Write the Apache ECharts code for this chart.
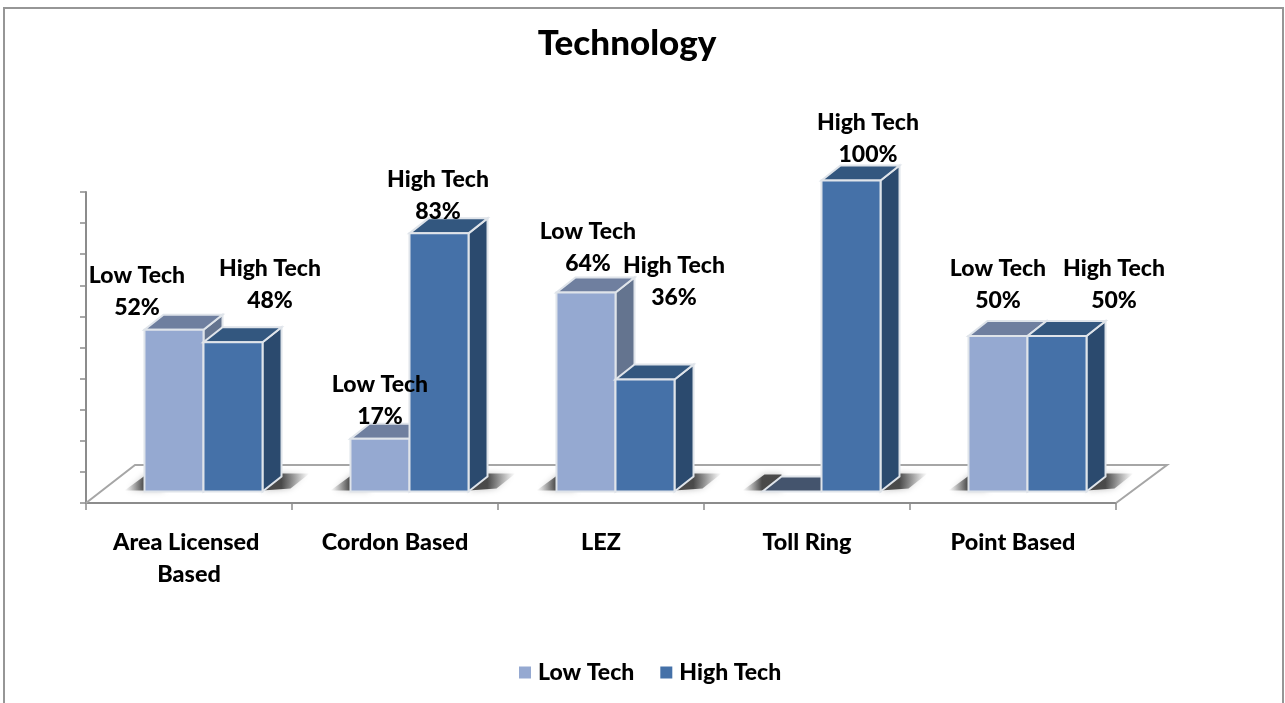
<!DOCTYPE html>
<html>
<head>
<meta charset="utf-8">
<title>Technology</title>
<style>
html,body{margin:0;padding:0;background:#fff;}
#chart{width:1285px;height:703px;}
</style>
<script src="https://cdn.jsdelivr.net/npm/echarts@6/dist/echarts.min.js"></script>
</head>
<body>
<div id="chart"></div>
<script>
var categories = ['Area Licensed Based', 'Cordon Based', 'LEZ', 'Toll Ring', 'Point Based'];
var lowTech = [52, 17, 64, 0, 50];
var highTech = [48, 83, 36, 100, 50];

// labels were placed by hand in the original, offset from the top middle of each bar
var lowNudge = [[-37, -38], [0, -38], [2, -45], null, [0, -51]];
var highNudge = [[37, -58], [-1, -38], [29, -98], [17, -42], [57, -51]];

var font = 'Lato, "Open Sans", sans-serif';
var depthX = 19, depthY = 15;
var shiftX = 14.5, shiftY = 11.5;   // bars stand back from the front edge of the floor

function poly(points, fill, stroke, z2) {
	return {
		type: 'polygon',
		z2: z2,
		shape: {points: points},
		style: {fill: fill, stroke: stroke, lineWidth: stroke ? 2 : 0}
	};
}

function makeBar(side, nudges, colors) {
	return function(params, api) {
		var i = api.value(0);
		var v = api.value(1);
		var base = api.coord([i, 0]);
		var top = api.coord([i, v]);
		var band = api.size([1, 0])[0];
		var w = band * 0.2865;
		var x0 = base[0] + shiftX + (side < 0 ? -w : 0);
		var x1 = x0 + w;
		var y0 = base[1] - shiftY;
		var y1 = top[1] - shiftY;
		var edge = '#dfe4ea';
		var kids = [];

		// soft shadow on the floor
		if (side < 0) {
			kids.push({
				type: 'polygon', z2: 1,
				shape: {points: [[x0 - 20, y0 - 1], [x0 + 2, y0 - 17], [x0 + depthX, y0 - 17], [x0 + depthX, y0 - 1]]},
				style: {
					fill: new echarts.graphic.LinearGradient(0, 0, 1, 0, [
						{offset: 0, color: 'rgba(120,120,120,0)'},
						{offset: 0.5, color: 'rgba(60,60,60,0.9)'}
					]),
					shadowBlur: 6,
					shadowColor: 'rgba(110,110,110,0.5)'
				}
			});
		} else {
			kids.push({
				type: 'polygon', z2: 1,
				shape: {points: [[x1, y0 - 1], [x1 + depthX, y0 - 18], [x1 + depthX + 28, y0 - 18], [x1 + 28, y0 - 3]]},
				style: {
					fill: new echarts.graphic.LinearGradient(0, 0, 1, 0, [
						{offset: 0.4, color: 'rgba(60,60,60,0.9)'},
						{offset: 1, color: 'rgba(120,120,120,0)'}
					]),
					shadowBlur: 6,
					shadowColor: 'rgba(110,110,110,0.5)'
				}
			});
		}

		if (v === 0) {
			kids.push(poly([[x0, y0], [x1, y0], [x1 + depthX, y0 - depthY], [x0 + depthX, y0 - depthY]], '#44546d', edge, 3));
		} else {
			kids.push(poly([[x1, y0], [x1 + depthX, y0 - depthY], [x1 + depthX, y1 - depthY], [x1, y1]], colors.side, edge, 3));
			kids.push(poly([[x0, y1], [x1, y1], [x1 + depthX, y1 - depthY], [x0 + depthX, y1 - depthY]], colors.top, edge, 3));
			kids.push(poly([[x0, y0], [x1, y0], [x1, y1], [x0, y1]], colors.front, edge, 3));
		}

		var n = nudges[i];
		if (n) {
			kids.push({
				type: 'text',
				z2: 100,
				silent: true,
				style: {
					x: (x0 + x1) / 2 + n[0],
					y: y1 + n[1],
					text: params.seriesName + '\n' + v + '%',
					fill: '#000',
					font: '900 23px ' + font,
					lineHeight: 32,
					align: 'center',
					verticalAlign: 'middle'
				}
			});
		}
		return {type: 'group', children: kids};
	};
}

function pairs(values) {
	return values.map(function(v, i) { return [i, v]; });
}

// floor of the 3d box, follows the grid
function renderFloor(params, api) {
	var c = params.coordSys;
	var l = c.x, r = c.x + c.width, b = c.y + c.height;
	return {
		type: 'polyline',
		z2: 0,
		shape: {points: [[l, b], [l + 49, b - 38], [r + 51, b - 38], [r, b]]},
		style: {stroke: '#a6a6a6', lineWidth: 2, fill: null}
	};
}

var chart = echarts.init(document.getElementById('chart'));
chart.setOption({
	backgroundColor: '#fff',
	animation: false,
	title: {
		text: 'Technology',
		left: 622,
		top: 21,
		textAlign: 'center',
		textStyle: {fontFamily: font, fontSize: 35, fontWeight: 900, color: '#000'}
	},
	legend: {
		bottom: 14,
		left: 514,
		icon: 'rect',
		itemWidth: 12,
		itemHeight: 12,
		itemGap: 26,
		data: ['Low Tech', 'High Tech'],
		textStyle: {fontFamily: font, fontSize: 23, fontWeight: 900, color: '#000', padding: [0, 0, 0, 2]}
	},
	grid: {left: 86, right: 169, top: 192, bottom: 200},
	xAxis: {
		type: 'category',
		data: categories,
		axisLine: {lineStyle: {color: '#8c8c8c', width: 2}},
		axisTick: {show: true, alignWithLabel: false, length: 7, lineStyle: {color: '#8c8c8c', width: 1.5}},
		axisLabel: {
			interval: 0,
			margin: 23,
			width: 185,
			overflow: 'break',
			lineHeight: 32,
			fontFamily: font,
			fontSize: 23.4,
			fontWeight: 900,
			color: '#000'
		}
	},
	yAxis: {
		type: 'value',
		min: 0,
		max: 100,
		interval: 10,
		splitLine: {show: false},
		axisLabel: {show: false},
		axisLine: {show: true, lineStyle: {color: '#8c8c8c', width: 2}},
		axisTick: {show: true, length: 6, lineStyle: {color: '#8c8c8c', width: 1.5}}
	},
	series: [
		{
			type: 'custom',
			name: 'floor',
			silent: true,
			clip: false,
			renderItem: renderFloor,
			data: [[0, 0]],
			encode: {x: 0, y: 1}
		},
		{
			type: 'custom',
			name: 'Low Tech',
			clip: false,
			itemStyle: {color: '#95a9d1'},
			renderItem: makeBar(-1, lowNudge, {front: '#95a9d1', top: '#6f7f9f', side: '#64748f'}),
			data: pairs(lowTech),
			encode: {x: 0, y: 1}
		},
		{
			type: 'custom',
			name: 'High Tech',
			clip: false,
			itemStyle: {color: '#4571a8'},
			renderItem: makeBar(1, highNudge, {front: '#4571a8', top: '#33577f', side: '#2b4a6e'}),
			data: pairs(highTech),
			encode: {x: 0, y: 1}
		}
	],
	graphic: [{
		type: 'polyline',
		silent: true,
		shape: {points: [[4, 703], [4, 8], [1283, 8], [1283, 703]]},
		style: {stroke: '#969696', lineWidth: 2, fill: null}
	}]
});
</script>
</body>
</html>
